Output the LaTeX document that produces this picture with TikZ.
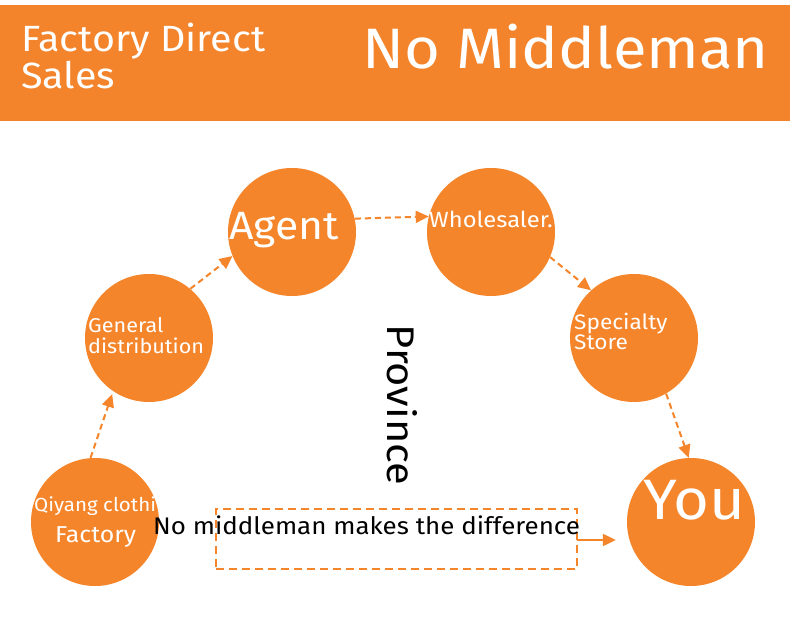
\documentclass[tikz,border=0pt]{standalone}
\usepackage{fontspec}
\setmainfont[FakeStretch=1.08]{Fira Sans}
\usetikzlibrary{arrows.meta}
\definecolor{org}{HTML}{F5852A}
\definecolor{hdr}{HTML}{F3842B}
\begin{document}
\begin{tikzpicture}[x=1pt,y=-1pt,
  stage/.style={circle,fill=org,minimum size=128pt,inner sep=0pt},
  wt/.style={text=white,inner sep=0pt},
  bt/.style={text=black,inner sep=0pt},
  flow/.style={draw=org,line width=2pt,dash pattern=on 6pt off 4pt,-{Triangle[length=13pt,width=12pt]}},
  solidflow/.style={draw=org,line width=2.2pt,-{Triangle[length=13pt,width=12pt]}},
  dbox/.style={draw=org,line width=1.8pt,dash pattern=on 8pt off 5pt,minimum width=361pt,minimum height=60pt,inner sep=0pt}]
\useasboundingbox (0,0) rectangle (790,620);
\fill[white] (0,0) rectangle (790,620);
% header
\node[fill=hdr,minimum width=790pt,minimum height=116pt,inner sep=0pt,anchor=north west] (hdr) at (0,5) {};
\node[wt,anchor=base west,font=\fontsize{36.5}{38}\selectfont] (t1a) at (21,52) {Factory Direct};
\node[wt,anchor=base west,font=\fontsize{36.5}{38}\selectfont] (t1b) at (21,89) {Sales};
\node[wt,anchor=base west,font=\fontsize{57}{60}\selectfont] (t2) at (362,69) {No Middleman};
% circles
\node[stage] (fac) at (95,522) {};
\node[stage] (gen) at (149,338) {};
\node[stage] (agt) at (292,232) {};
\node[stage] (whs) at (491,232) {};
\node[stage] (spc) at (634,338) {};
\node[stage] (you) at (691,522) {};
% circle texts
\node[wt,anchor=base west,font=\fontsize{19}{21}\selectfont] (facA) at (34,511) {Qiyang clothi};
\node[wt,anchor=base west,font=\fontsize{23}{25}\selectfont] (facB) at (55,542) {Factory};
\node[wt,anchor=base west,font=\fontsize{20}{21}\selectfont] (genA) at (88,333) {General};
\node[wt,anchor=base west,font=\fontsize{20}{21}\selectfont] (genB) at (88,354) {distribution};
\node[wt,anchor=base west,font=\fontsize{39.5}{44}\selectfont] (agtA) at (229,240) {Agent};
\node[wt,anchor=base west,font=\fontsize{22}{23}\selectfont] (whsA) at (429,228) {Wholesaler.};
\node[wt,anchor=base west,font=\fontsize{21}{23}\selectfont] (spcA) at (574,330) {Specialty};
\node[wt,anchor=base west,font=\fontsize{21}{23}\selectfont] (spcB) at (574,350) {Store};
\node[wt,anchor=base west,font=\fontsize{57}{60}\selectfont] (youA) at (643,519) {You};
% province
\node[bt,rotate=-90,font=\fontsize{38.5}{44}\selectfont] (prov) at (402,405) {Province};
% dashed box
\node[dbox] (box) at (396.5,539) {};
\node[bt,anchor=base west,font=\fontsize{24}{28}\selectfont] (boxt) at (153,534) {No middleman makes the difference};
\coordinate (bx) at (577,540);
\draw[solidflow,shorten >=11pt] (bx) -- (bx -| you.west);
% flow arrows
\draw[flow,shorten >=3pt] (fac.94.5) -- (gen.-124);
\draw[flow] (gen.50.6) -- (agt.-158);
\draw[flow] (agt.12) -- (whs.166.6);
\draw[flow] (whs.-23) -- (spc.132.5);
\draw[flow] (spc.-60.7) -- (you.92.6);
\end{tikzpicture}
\end{document}
